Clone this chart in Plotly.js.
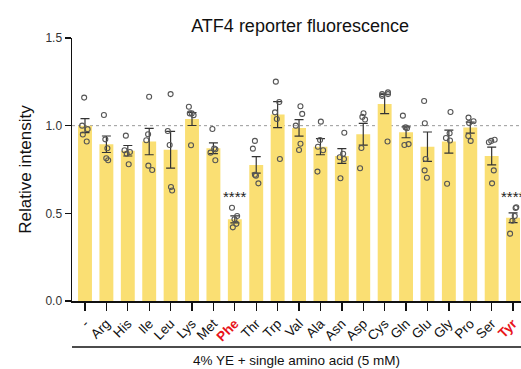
<!DOCTYPE html>
<html>
<head>
<meta charset="utf-8">
<script src="https://cdn.plot.ly/plotly-3.0.1.min.js"></script>
<style>html,body{margin:0;padding:0;background:#fff;}#chart{width:521px;height:369px;}</style>
</head>
<body>
<div id="chart"></div>
<script>
var categories = ['-', 'Arg', 'His', 'Ile', 'Leu', 'Lys', 'Met', 'Phe', 'Thr', 'Trp', 'Val', 'Ala', 'Asn', 'Asp', 'Cys', 'Gln', 'Glu', 'Gly', 'Pro', 'Ser', 'Tyr'];
var highlighted = ['Phe', 'Tyr'];
var means = [1.0, 0.894, 0.857, 0.909, 0.863, 1.038, 0.871, 0.466, 0.776, 1.063, 0.987, 0.880, 0.827, 0.951, 1.124, 0.962, 0.880, 0.909, 0.989, 0.827, 0.475];
var sem = [0.04, 0.047, 0.03, 0.075, 0.105, 0.037, 0.031, 0.02, 0.047, 0.074, 0.047, 0.046, 0.042, 0.062, 0.055, 0.031, 0.084, 0.066, 0.031, 0.051, 0.028];
var replicates = [
  [1.16, 1.0, 0.98, 0.95, 0.91],
  [1.061, 0.922, 0.871, 0.814, 0.803],
  [0.943, 0.86, 0.85, 0.84, 0.78],
  [1.165, 0.951, 0.917, 0.772, 0.747],
  [1.18, 0.97, 0.89, 0.65, 0.63],
  [1.108, 1.07, 1.07, 1.06, 0.888],
  [0.981, 0.87, 0.865, 0.846, 0.803],
  [0.532, 0.485, 0.466, 0.44, 0.42],
  [0.913, 0.869, 0.72, 0.715, 0.671],
  [1.251, 1.135, 1.076, 1.038, 0.81],
  [1.111, 1.067, 1.0, 0.897, 0.861],
  [1.023, 0.918, 0.88, 0.86, 0.738],
  [0.96, 0.84, 0.82, 0.81, 0.70],
  [1.071, 1.05, 1.035, 0.873, 0.757],
  [1.19, 1.18, 1.18, 1.17, 0.91],
  [1.057, 0.99, 0.985, 0.895, 0.89],
  [1.141, 1.014, 0.81, 0.745, 0.703],
  [1.078, 0.957, 0.93, 0.915, 0.669],
  [1.046, 1.025, 1.015, 0.941, 0.913],
  [0.92, 0.913, 0.905, 0.745, 0.671],
  [0.535, 0.53, 0.485, 0.458, 0.384]
];
var significance = {'Phe': '****', 'Tyr': '****'};
var starLevel = 0.595;
var yTicks = [0, 0.5, 1.0, 1.5];
var referenceLevel = 1.0;

var tickText = categories.map(function (c) {
  return highlighted.indexOf(c) >= 0 ? '<b><span style="color:#e8141b">' + c + '</span></b>' : c;
});

var ptX = [], ptY = [];
replicates.forEach(function (arr, i) {
  arr.forEach(function (v) { ptX.push(categories[i]); ptY.push(v); });
});

var font = 'Arial, "Liberation Sans", Helvetica, sans-serif';

var traces = [
  {
    type: 'bar', x: categories, y: means,
    marker: {color: '#FADF73', line: {width: 0}},
    width: 0.65,
    error_y: {type: 'data', array: sem, visible: true, color: '#333', thickness: 1.2, width: 4.5},
    hoverinfo: 'skip'
  },
  {
    type: 'box', x: ptX, y: ptY,
    boxpoints: 'all', jitter: 0.7, pointpos: 0, width: 0.45,
    fillcolor: 'rgba(0,0,0,0)', line: {width: 0, color: 'rgba(0,0,0,0)'},
    marker: {symbol: 'circle-open', size: 5, color: '#555', line: {width: 1.1, color: '#555'}},
    hoverinfo: 'skip', showlegend: false
  }
];

var annotations = Object.keys(significance).map(function (c) {
  return {x: c, y: starLevel, xref: 'x', yref: 'y', text: significance[c], showarrow: false,
          xanchor: 'center', font: {family: font, size: 15, color: '#222'}, yanchor: 'middle'};
});

var layout = {
  width: 521, height: 369,
  margin: {l: 72, r: 0, t: 38, b: 68},
  paper_bgcolor: '#fff', plot_bgcolor: '#fff',
  showlegend: false,
  font: {family: font, color: '#222'},
  title: {text: 'ATF4 reporter fluorescence', x: 0.576, xanchor: 'center', y: 0.93, yanchor: 'middle',
          xref: 'container', yref: 'container', font: {family: font, size: 18, color: '#111'}},
  xaxis: {
    type: 'category', range: [-0.607, 20.37],
    tickmode: 'array', tickvals: categories, ticktext: tickText, tickangle: -45,
    ticks: 'outside', ticklen: 8, tickwidth: 1.3, tickcolor: '#111',
    showline: true, linecolor: '#111', linewidth: 1.5,
    showgrid: false, zeroline: false,
    tickfont: {family: font, size: 13.5, color: '#111'},
    title: {text: '4% YE + single amino acid (5 mM)', font: {family: font, size: 13.5, color: '#111'}, standoff: 12}
  },
  yaxis: {
    range: [0, 1.5], tickmode: 'array', tickvals: yTicks, tickformat: '.1f',
    ticks: 'outside', ticklen: 6, tickwidth: 1.3, tickcolor: '#111',
    showline: true, linecolor: '#111', linewidth: 1.5,
    showgrid: false, zeroline: false,
    tickfont: {family: font, size: 12, color: '#333'},
    title: {text: 'Relative intensity', font: {family: font, size: 17, color: '#111'}, standoff: 9}
  },
  shapes: [
    {type: 'line', xref: 'paper', yref: 'y', x0: 0, x1: 1, y0: referenceLevel, y1: referenceLevel,
     line: {color: '#999', width: 1, dash: 'dot'}, layer: 'below'},
    {type: 'line', xref: 'paper', yref: 'paper', x0: 0, x1: 1, y0: -0.175, y1: -0.175,
     line: {color: '#111', width: 1.5}}
  ],
  annotations: annotations
};

Plotly.newPlot('chart', traces, layout, {staticPlot: true, displayModeBar: false});
</script>
</body>
</html>
